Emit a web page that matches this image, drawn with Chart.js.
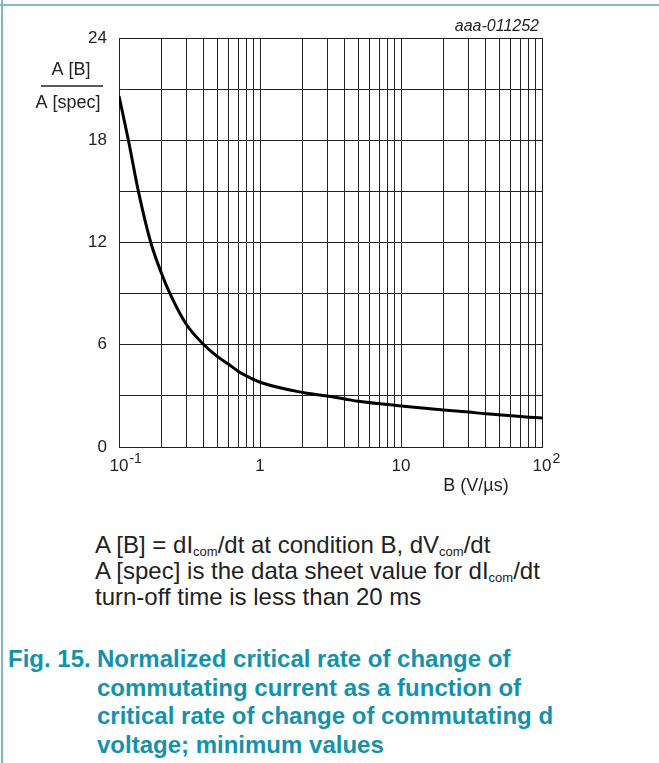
<!DOCTYPE html>
<html>
<head>
<meta charset="utf-8">
<script src="https://cdn.jsdelivr.net/npm/chart.js@4/dist/chart.umd.min.js"></script>
<style>
  body { margin: 0; background: #fff; width: 659px; height: 763px; overflow: hidden; position: relative; font-family: "Liberation Sans", Arial, sans-serif; }
  .frameTop { position: absolute; left: 0; top: 4px; width: 659px; height: 2px; background: #7cc0cf; }
  .frameLeft { position: absolute; left: 1px; top: 0; width: 2px; height: 763px; background: #7cb8c6; }
  #wrap { position: absolute; left: 0; top: 0; width: 659px; height: 520px; }
  .note { position: absolute; left: 95px; top: 532px; font-size: 24px; line-height: 26px; color: #222; }
  .note sub { font-size: 13px; vertical-align: -3px; line-height: 0; }
  .caption { position: absolute; left: 8px; top: 645px; font-size: 24px; line-height: 28.5px; font-weight: bold; color: #1592ab; white-space: nowrap; }
  .caption .num { display: inline-block; width: 89px; }
  .caption .ind { padding-left: 89px; }
</style>
</head>
<body>
<div class="frameTop"></div>
<div class="frameLeft"></div>
<div id="wrap"><canvas id="chart" width="659" height="520"></canvas></div>

<div class="note">
  A [B] = dI<sub>com</sub>/dt at condition B, dV<sub>com</sub>/dt<br>
  A [spec] is the data sheet value for dI<sub>com</sub>/dt<br>
  turn-off time is less than 20 ms
</div>

<div class="caption">
  <div><span class="num">Fig. 15.</span>Normalized critical rate of change of</div>
  <div class="ind">commutating current as a function of</div>
  <div class="ind">critical rate of change of commutating d</div>
  <div class="ind">voltage; minimum values</div>
</div>

<script>
// curve
const bValues = [0.1, 0.1166, 0.1373, 0.168, 0.2, 0.23, 0.3, 0.4, 0.5, 0.6, 0.7, 0.8, 1, 2, 3, 4, 5, 10, 20, 30, 40, 100]
const ratioValues = [20.6, 18.0, 15.0, 12.0, 10.2, 9.0, 7.2, 6.0, 5.3, 4.85, 4.45, 4.17, 3.8, 3.2, 2.99, 2.82, 2.68, 2.41, 2.17, 2.05, 1.95, 1.7]

const yLabelValues = [0, 6, 12, 18, 24]
const xLabels = [
  { value: 0.1, base: '10', sup: '-1' },
  { value: 1, base: '1', sup: '' },
  { value: 10, base: '10', sup: '' },
  { value: 100, base: '10', sup: '2' },
]

const FONT = '"Liberation Sans", Arial, sans-serif'
const INK = '#222'

// gridlines at 1..9 of every decade
const logGridTicks = () => {
  const ticks = []
  for (let dec = 0.1; dec < 100; dec *= 10) {
    for (let m = 1; m <= 9; m++) ticks.push({ value: +(m * dec).toPrecision(3) })
  }
  ticks.push({ value: 100 })
  return ticks
}

const extraText = {
  id: 'extraText',
  afterDraw(chart) {
    const { ctx } = chart
    const xs = chart.scales.x
    ctx.save()
    ctx.fillStyle = INK

    // x tick labels with superscripts
    xLabels.forEach((l) => {
      const px = xs.getPixelForValue(l.value)
      ctx.font = `17px ${FONT}`
      ctx.textAlign = 'center'
      ctx.textBaseline = 'middle'
      ctx.fillText(l.base, px, 466)
      if (l.sup) {
        const w = ctx.measureText(l.base).width
        ctx.font = `14px ${FONT}`
        ctx.textAlign = 'left'
        ctx.fillText(l.sup, px + w / 2 + 1, 459)
      }
    })

    // x axis title
    ctx.font = `18px ${FONT}`
    ctx.textAlign = 'center'
    ctx.textBaseline = 'middle'
    ctx.fillText('B (V/\u00b5s)', 476, 486)

    // y axis title as a fraction
    ctx.fillText('A [B]', 71, 70)
    ctx.fillText('A [spec]', 68, 103)
    ctx.strokeStyle = INK
    ctx.lineWidth = 1.5
    ctx.beginPath()
    ctx.moveTo(41, 86)
    ctx.lineTo(103, 86)
    ctx.stroke()

    // drawing code
    ctx.font = `italic 16px ${FONT}`
    ctx.textAlign = 'right'
    ctx.fillText('aaa-011252', 539, 27)
    ctx.restore()
  },
}

new Chart(document.getElementById('chart'), {
  type: 'line',
  data: {
    datasets: [
      {
        data: bValues.map((b, i) => ({ x: b, y: ratioValues[i] })),
        borderColor: '#000',
        borderWidth: 3,
        pointRadius: 0,
        cubicInterpolationMode: 'monotone',
        fill: false,
      },
    ],
  },
  options: {
    responsive: false,
    animation: false,
    layout: { padding: { top: 38, right: 117, left: 0, bottom: 0 } },
    plugins: { legend: { display: false }, tooltip: { enabled: false } },
    scales: {
      x: {
        type: 'logarithmic',
        min: 0.1,
        max: 100,
        afterBuildTicks(scale) {
          scale.ticks = logGridTicks()
        },
        afterFit(scale) {
          scale.height = 520 - 447
        },
        ticks: { display: false, autoSkip: false },
        grid: { color: INK, lineWidth: 1, drawTicks: false },
        border: { color: INK, width: 1 },
      },
      y: {
        min: 0,
        max: 24,
        afterFit(scale) {
          scale.width = 119
        },
        ticks: {
          stepSize: 3,
          padding: 12,
          color: INK,
          font: { family: FONT, size: 17 },
          callback: (v) => (yLabelValues.includes(v) ? v : ''),
        },
        grid: { color: INK, lineWidth: 1, drawTicks: false },
        border: { color: INK, width: 1 },
      },
    },
  },
  plugins: [extraText],
})
</script>
</body>
</html>
